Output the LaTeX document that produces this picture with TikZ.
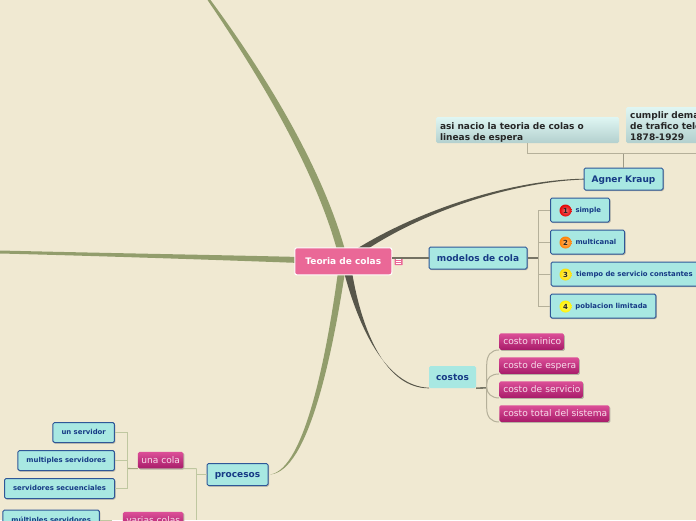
\documentclass[tikz,border=0pt]{standalone}
\usepackage{fontspec}
\usetikzlibrary{shadows}
\setmainfont{DejaVu Sans}
\definecolor{bgc}{HTML}{F0E9D2}
\definecolor{cyanf}{HTML}{A8E8E2}
\definecolor{blued}{HTML}{2F5797}
\definecolor{bluet}{HTML}{163A85}
\definecolor{magtop}{HTML}{DC4F98}
\definecolor{magbot}{HTML}{A81C6A}
\definecolor{magt}{HTML}{F8DDEB}
\definecolor{pinkf}{HTML}{EA6897}
\definecolor{olive}{HTML}{929D6C}
\definecolor{darkl}{HTML}{57564A}
\definecolor{lnk}{HTML}{B5B09A}
\definecolor{lnkg}{HTML}{BFC7A0}
\definecolor{shd}{HTML}{A8A596}
\definecolor{notetop}{HTML}{DFF6F3}
\definecolor{notebot}{HTML}{B3D0CE}
\tikzset{
 px/.style={x=1pt,y=-1pt},
 softshadow/.style={drop shadow={shadow xshift=1pt,shadow yshift=-1.2pt,fill=shd,opacity=.8}},
 topicbox/.style={draw=blued,line width=1pt,fill=cyanf,rounded corners=1.5pt,text=bluet,font=\bfseries\fontsize{9}{9}\selectfont,inner sep=0pt,softshadow,text height=7.4pt,text depth=.6pt},
 leafbox/.style={draw=blued,line width=1pt,fill=cyanf,rounded corners=1.5pt,text=bluet,font=\bfseries\fontsize{6.9}{7}\selectfont,inner sep=0pt,softshadow,text height=4.8pt,text depth=.6pt},
 magbox/.style={top color=magtop,bottom color=magbot,rounded corners=1.5pt,text=magt,font=\fontsize{9.1}{9.1}\selectfont,inner sep=0pt,minimum height=16.5pt,softshadow,text height=7.4pt,text depth=.6pt},
 notebox/.style={top color=notetop,bottom color=notebot,rounded corners=1.5pt,text=black!85,font=\bfseries\fontsize{9}{11}\selectfont,inner sep=0pt,align=left},
 badge/.style={circle,inner color=#1!55!white,outer color=#1,inner sep=0pt,minimum size=12pt,font=\bfseries\fontsize{7}{7}\selectfont,text=black!85},
 thinlink/.style={draw=lnk,line width=1pt},
 darklink/.style={draw=darkl!65!lnk,line width=1.2pt},
 greenlink/.style={draw=lnkg,line width=1pt},
}
\begin{document}
\begin{tikzpicture}[px]
\useasboundingbox (0,0) rectangle (696,520);
\fill[bgc] (0,0) rectangle (696,520);
% trunk branches
\fill[olive] (207.5,0) .. controls (262,80) and (315,170) .. (337,250) -- (345,250) .. controls (322,168) and (268,78) .. (210.5,0) -- cycle;
\fill[olive] (0,250.5) .. controls (100,253) and (220,255) .. (300,257) -- (300,263) .. controls (220,260) and (100,256) .. (0,253.5) -- cycle;
\fill[olive] (338,272) .. controls (328,345) and (306,470) .. (270,474.5) .. controls (309,472) and (333,350) .. (345,272) -- cycle;
\fill[darkl] (358,248) .. controls (420,210) and (510,180) .. (584,178.7) -- (584,179.5) .. controls (512,182) and (425,211) .. (366,250) -- cycle;
\fill[darkl] (344,272) .. controls (358,325) and (385,386.5) .. (429,387.7) -- (429,388.3) .. controls (386,388.5) and (362,332) .. (352,272) -- cycle;
% nodes
\node[topicbox,minimum width=79pt,minimum height=22pt] (agner) at (623.5,179) {Agner Kraup};
\node[notebox,minimum width=183pt,minimum height=26pt,text width=175pt] (asi) at (527.5,130) {\rule{0pt}{12pt}asi nacio la teoria de colas o\\lineas de espera};
\node[notebox,anchor=west,minimum height=36pt,text width=95pt] (cumplir) at (626,125) {\rule{0pt}{9pt}\hspace*{4pt}cumplir dema\\\hspace*{4pt}de trafico tele\\\hspace*{4pt}1878-1929};
\node[topicbox,minimum width=98pt,minimum height=22pt] (modelos) at (478,258) {modelos de cola};
\node[leafbox,minimum width=59pt,minimum height=24pt,text width=59pt,align=left] (simple) at (580,210) {\hspace*{25pt}simple};
\node[leafbox,minimum width=74pt,minimum height=24pt,text width=74pt,align=left] (multi) at (587.5,242) {\hspace*{25pt}multicanal};
\node[leafbox,anchor=west,minimum width=160pt,minimum height=24pt,text width=160pt,align=left] (tiempo) at (550.5,274) {\hspace*{25pt}tiempo de servicio constantes};
\node[leafbox,minimum width=105.5pt,minimum height=24pt,text width=105.5pt,align=left] (pobl) at (603.2,306) {\hspace*{25pt}poblacion limitada};
\node[badge=red!90!black] (b1) at (565.5,210.5) {1};
\node[badge=orange] (b2) at (565.5,242.5) {2};
\node[badge=yellow!75!orange] (b3) at (565.5,274.5) {3};
\node[badge=yellow!90!orange] (b4) at (565.5,306.5) {4};
\node[fill=cyanf,rounded corners=1.5pt,text=bluet,font=\bfseries\fontsize{9}{9}\selectfont,inner sep=0pt,minimum width=47pt,minimum height=22pt,text height=7.4pt,text depth=.6pt] (costos) at (452.5,377) {costos};
\node[magbox,minimum width=64.5pt,text width=64.5pt,align=left,anchor=west] (c1) at (499.2,341.5) {\hspace*{4pt}costo minico};
\node[magbox,minimum width=79.5pt,text width=79.5pt,align=left,anchor=west] (c2) at (499.2,365.5) {\hspace*{4pt}costo de espera};
\node[magbox,minimum width=83.5pt,text width=83.5pt,align=left,anchor=west] (c3) at (499.2,389.5) {\hspace*{4pt}costo de servicio};
\node[magbox,minimum width=110pt,text width=110pt,align=left,anchor=west] (c4) at (499.2,413.5) {\hspace*{4pt}costo total del sistema};
\node[topicbox,minimum width=61pt,minimum height=22pt] (proc) at (237.5,474.5) {procesos};
\node[magbox,minimum width=45.5pt] (una) at (160.7,460.2) {una cola};
\node[magbox,minimum width=60.5pt] (varias) at (153.2,520.2) {varias colas};
\node[leafbox,minimum width=61.5pt,minimum height=20pt] (un) at (83.7,432.5) {un servidor};
\node[leafbox,minimum width=96.5pt,minimum height=20pt] (mul) at (66.2,460.5) {multiples servidores};
\node[leafbox,minimum width=110pt,minimum height=20pt] (sec) at (59.5,488.5) {servidores secuenciales};
\node[leafbox,minimum width=96.5pt,minimum height=20pt] (mm) at (51.2,520) {múltiples servidores};
\node[fill=pinkf,draw=white,line width=1.1pt,rounded corners=2pt,text=white,font=\bfseries\fontsize{9}{9}\selectfont,inner sep=0pt,minimum width=97pt,minimum height=27pt,text height=6.2pt,text depth=.6pt] (root) at (343.3,261.3) {Teoria de colas};
\node[fill=pinkf,rounded corners=.5pt,inner sep=0pt,minimum width=8pt,minimum height=7.5pt] (note) at (398.7,261.3) {};
\draw[white,line width=.6pt] (396.2,259.3) -- (401.2,259.3) (396.2,261.3) -- (401.2,261.3) (396.2,263.3) -- (401.2,263.3);
% connectors
\coordinate (rootout) at (392,258);
\draw[darkl!70!lnk,line width=1.2pt] (rootout) -- (modelos.west);
\coordinate (aj) at (623.5,153.5);
\coordinate (aright) at (696,153.5);
\draw[lnk!75!darkl,line width=1.4pt] (agner.north) -- (aj);
\draw[thinlink] (aj) -| (asi.south);
\draw[thinlink] (aj) -- (aright);
\coordinate (mj) at (538,258);
\draw[darklink] (modelos.east) -- (mj);
\foreach \n in {simple,multi,tiempo,pobl}{\draw[thinlink] (mj) |- (\n.west);}
\coordinate (cj) at (486.7,387.8);
\draw[darkl!65!lnk,line width=1.6pt] (costos.south east) -- (cj);
\draw[thinlink] (cj) -- (486.7,365) .. controls (486.7,355) and (491,350) .. (c1.south west);
\draw[thinlink] (cj) -- (486.7,384) .. controls (486.7,378) and (491,374) .. (c2.south west);
\draw[thinlink] (cj) .. controls (487,393) and (491,398) .. (c3.south west);
\draw[thinlink] (cj) -- (486.7,408) .. controls (486.7,417) and (491,422) .. (c4.south west);
\coordinate (pj) at (196.7,474.5);
\coordinate (pdown) at (196.7,520);
\coordinate (uj) at (127.5,468.5);
\draw[greenlink] (proc.west) -- (pj);
\draw[greenlink] (196.7,468.7) -- (pdown);
\draw[greenlink] (196.7,468.7) -- (una.south east);
\draw[olive!80!bgc,line width=1.1pt] (una.south west) -- (uj);
\draw[greenlink] (un.east) -| (uj);
\draw[greenlink] (mul.east) -| (uj);
\draw[greenlink] (sec.east) -| (uj);
\coordinate (vj) at (112,520);
\draw[greenlink] (mm.east) -- (vj);
\end{tikzpicture}
\end{document}
